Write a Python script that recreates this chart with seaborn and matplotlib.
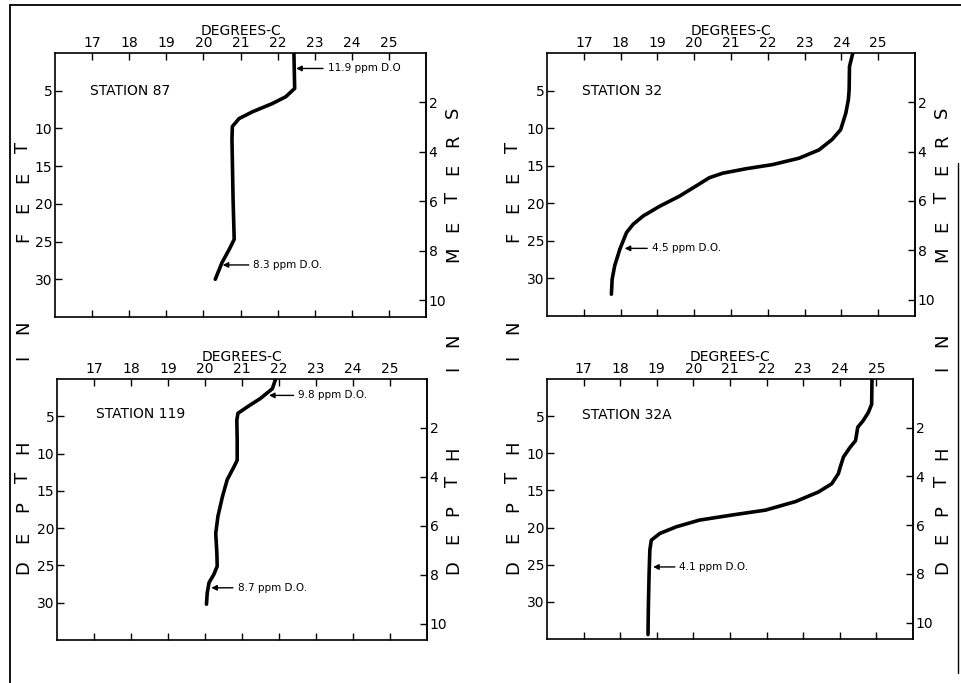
import numpy as np
import pandas as pd
import seaborn as sns
import matplotlib.pyplot as plt
from matplotlib.lines import Line2D

# temperature profiles (deg C) against depth (feet)
st87_temp = [22.44, 22.46, 22.22, 21.86, 21.32, 20.96, 20.78, 20.77, 20.80, 20.83, 20.70, 20.50, 20.32]
st87_depth = [0.0, 4.7, 5.8, 6.7, 7.8, 8.7, 9.75, 11.5, 19.4, 24.7, 26.0, 27.8, 30.0]

st32_temp = [24.31, 24.22, 24.21, 24.19, 24.12, 23.98, 23.75, 23.39, 22.85, 22.13, 21.41, 20.77,
             20.41, 20.05, 19.60, 19.06, 18.61, 18.34, 18.16, 17.98, 17.84, 17.77, 17.75]
st32_depth = [0.0, 1.8, 4.9, 6.2, 8.0, 10.2, 11.5, 12.9, 14.0, 14.85, 15.4, 16.0,
              16.6, 17.7, 19.05, 20.4, 21.7, 22.8, 23.9, 26.1, 28.3, 30.1, 32.1]

st119_temp = [21.91, 21.82, 21.50, 21.14, 20.89, 20.86, 20.87, 20.87, 20.78, 20.60, 20.47,
              20.35, 20.29, 20.32, 20.33, 20.24, 20.11, 20.06, 20.04]
st119_depth = [0.0, 1.3, 2.6, 3.75, 4.6, 5.5, 8.2, 10.9, 11.8, 13.5, 15.8,
               18.4, 20.7, 23.3, 25.1, 26.2, 27.3, 28.7, 30.2]

st32a_temp = [24.88, 24.87, 24.78, 24.64, 24.49, 24.43, 24.28, 24.10, 24.01, 23.96, 23.78, 23.42,
              22.79, 21.97, 21.07, 20.16, 19.53, 19.08, 18.85, 18.81, 18.79, 18.77, 18.76]
st32a_depth = [0.0, 3.4, 4.5, 5.6, 6.5, 8.3, 9.2, 10.5, 11.9, 12.75, 14.1, 15.2,
               16.5, 17.65, 18.3, 19.0, 19.9, 20.8, 21.7, 23.0, 26.1, 30.6, 34.4]

stations = ["STATION 87", "STATION 32", "STATION 119", "STATION 32A"]

# dissolved oxygen notes: (text, temp at arrow head, depth, temp at text start)
do_notes = [
    [("11.9 ppm D.O", 22.5, 2.05, 23.35), ("8.3 ppm D.O.", 20.52, 28.1, 21.35)],
    [("4.5 ppm D.O.", 18.11, 26.0, 18.85)],
    [("9.8 ppm D.O.", 21.73, 2.2, 22.52), ("8.7 ppm D.O.", 20.17, 28.0, 20.88)],
    [("4.1 ppm D.O.", 18.90, 25.3, 19.62)],
]

temps = [st87_temp, st32_temp, st119_temp, st32a_temp]
depths = [st87_depth, st32_depth, st119_depth, st32a_depth]
deg_ticks = list(range(17, 26))
ft_ticks = [5, 10, 15, 20, 25, 30]
m_ticks = [2, 4, 6, 8, 10]
FT_PER_M = 3.281

sns.set_theme(style="white")
plt.rcParams["font.family"] = ["DejaVu Sans"]
plt.rcParams["text.color"] = "black"
plt.rcParams["axes.labelcolor"] = "black"

W, H = 961, 683
fig = plt.figure(figsize=(W / 100, H / 100), dpi=100)

# axes boxes in pixels: left, top, right, bottom
boxes = [(55, 53, 426, 317), (547, 53, 915, 316), (57, 379, 427, 640), (547, 379, 913, 639)]
station_pos = [(16.93, 5.0), (16.96, 5.0), (17.05, 4.7), (16.95, 4.8)]

for i, (l, t, r, b) in enumerate(boxes):
    ax = fig.add_axes([l / W, 1 - b / H, (r - l) / W, (b - t) / H])
    df = pd.DataFrame({"temp": temps[i], "depth": depths[i]})
    sns.lineplot(data=df, x="temp", y="depth", sort=False, estimator=None,
                 color="black", linewidth=2.6, ax=ax)
    for ln in ax.lines:
        ln.set_solid_joinstyle("round")
        ln.set_solid_capstyle("round")
    ax.set_xlim(16, 26)
    ax.set_ylim(35, 0)
    ax.set_xticks(deg_ticks)
    ax.set_yticks(ft_ticks)
    ax.tick_params(axis="x", top=True, bottom=True, labeltop=True, labelbottom=False,
                   direction="in", length=5, width=1, labelsize=10, pad=2, colors="black")
    ax.tick_params(axis="y", left=True, direction="in", length=5, width=1,
                   labelsize=10, pad=2, colors="black")
    ax.set_xlabel("DEGREES-C", fontsize=10, labelpad=1)
    ax.xaxis.set_label_position("top")
    ax.set_ylabel("")
    for s in ax.spines.values():
        s.set_color("black")
        s.set_linewidth(1.2)
    sec = ax.secondary_yaxis("right", functions=(lambda f: f / FT_PER_M, lambda m: m * FT_PER_M))
    sec.set_yticks(m_ticks)
    sec.tick_params(direction="in", length=5, width=1, labelsize=10, pad=2, colors="black")
    sec.spines["right"].set_linewidth(1.2)

    ax.text(station_pos[i][0], station_pos[i][1], stations[i], fontsize=10,
            ha="left", va="center")
    for txt, hx, dy, tx in do_notes[i]:
        ax.annotate(txt, xy=(hx, dy), xytext=(tx, dy), fontsize=7.5, ha="left", va="center",
                    arrowprops=dict(arrowstyle="-|>", color="black", lw=1,
                                    mutation_scale=8, shrinkA=1, shrinkB=0))


def spaced_label(word, x_px, y_bottom_px, step_px):
    # draw letters one by one, reading bottom to top
    for k, ch in enumerate(word):
        if ch == " ":
            continue
        y = y_bottom_px - k * step_px
        fig.text(x_px / W, 1 - y / H, ch, rotation=90, fontsize=13,
                 ha="center", va="center")


for xc in (23, 513):
    spaced_label("DEPTH  IN  FEET", xc, 567, 30)
for xc in (453, 942):
    spaced_label("DEPTH  IN  METERS", xc, 567, 28.4)

# page frame from the scan
fig.add_artist(Line2D([10 / W, 10 / W], [0, 1 - 5 / H], color="black", lw=1.3))
fig.add_artist(Line2D([10 / W, 1], [1 - 5 / H, 1 - 5 / H], color="black", lw=1.3))
fig.add_artist(Line2D([958 / W, 958 / W], [1 - 673 / H, 1 - 163 / H], color="black", lw=1.0))

fig.savefig("out.png", dpi=100)
